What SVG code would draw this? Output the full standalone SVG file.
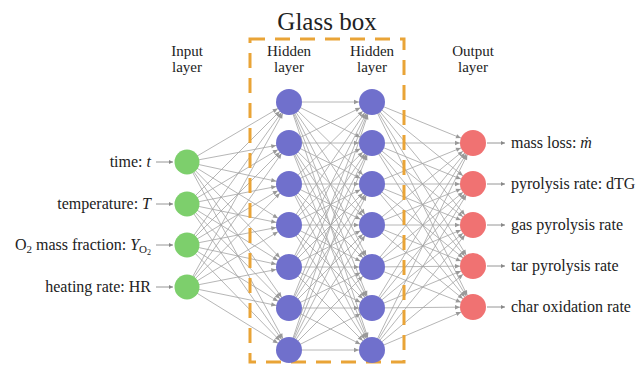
<svg xmlns="http://www.w3.org/2000/svg" width="636" height="367" viewBox="0 0 636 367">
<style>
.e{stroke:#a3a3a3;stroke-width:0.8;fill:none;marker-end:url(#ah)}
.a{stroke:#8a8a8a;stroke-width:0.9;fill:none;marker-end:url(#sa)}
.in{fill:#7dcf6c}
.hd{fill:#7070cc}
.out{fill:#f07272}
text{font-family:"Liberation Serif","Times New Roman",serif;fill:#222}
.lbl{font-size:16px}
.lay{font-size:15px;text-anchor:middle}
.ttl{font-size:25px;text-anchor:middle}
.box{fill:none;stroke:#e9a437;stroke-width:3;stroke-dasharray:15 10}
</style>
<defs>
<marker id="ah" viewBox="-20 -5 20 10" markerWidth="20" markerHeight="10" refX="0" refY="0" orient="auto" markerUnits="userSpaceOnUse">
<path d="M-18,-2.2 L-13,0 L-18,2.2 z" fill="#999"/>
</marker>
<marker id="sa" viewBox="-6 -4 7 8" markerWidth="7" markerHeight="8" refX="0" refY="0" orient="auto" markerUnits="userSpaceOnUse">
<path d="M-4,-2 L0,0 L-4,2 z" fill="#888"/>
</marker>
</defs>

<g id="connectors">
<line class="e" x1="187" y1="162" x2="289" y2="102"/>
<line class="e" x1="187" y1="162" x2="289" y2="143"/>
<line class="e" x1="187" y1="162" x2="289" y2="184"/>
<line class="e" x1="187" y1="162" x2="289" y2="225"/>
<line class="e" x1="187" y1="162" x2="289" y2="267"/>
<line class="e" x1="187" y1="162" x2="289" y2="308"/>
<line class="e" x1="187" y1="162" x2="289" y2="350"/>
<line class="e" x1="187" y1="204" x2="289" y2="102"/>
<line class="e" x1="187" y1="204" x2="289" y2="143"/>
<line class="e" x1="187" y1="204" x2="289" y2="184"/>
<line class="e" x1="187" y1="204" x2="289" y2="225"/>
<line class="e" x1="187" y1="204" x2="289" y2="267"/>
<line class="e" x1="187" y1="204" x2="289" y2="308"/>
<line class="e" x1="187" y1="204" x2="289" y2="350"/>
<line class="e" x1="187" y1="245" x2="289" y2="102"/>
<line class="e" x1="187" y1="245" x2="289" y2="143"/>
<line class="e" x1="187" y1="245" x2="289" y2="184"/>
<line class="e" x1="187" y1="245" x2="289" y2="225"/>
<line class="e" x1="187" y1="245" x2="289" y2="267"/>
<line class="e" x1="187" y1="245" x2="289" y2="308"/>
<line class="e" x1="187" y1="245" x2="289" y2="350"/>
<line class="e" x1="187" y1="287" x2="289" y2="102"/>
<line class="e" x1="187" y1="287" x2="289" y2="143"/>
<line class="e" x1="187" y1="287" x2="289" y2="184"/>
<line class="e" x1="187" y1="287" x2="289" y2="225"/>
<line class="e" x1="187" y1="287" x2="289" y2="267"/>
<line class="e" x1="187" y1="287" x2="289" y2="308"/>
<line class="e" x1="187" y1="287" x2="289" y2="350"/>

<line class="e" x1="289" y1="102" x2="372" y2="102"/>
<line class="e" x1="289" y1="102" x2="372" y2="143"/>
<line class="e" x1="289" y1="102" x2="372" y2="184"/>
<line class="e" x1="289" y1="102" x2="372" y2="225"/>
<line class="e" x1="289" y1="102" x2="372" y2="267"/>
<line class="e" x1="289" y1="102" x2="372" y2="308"/>
<line class="e" x1="289" y1="102" x2="372" y2="350"/>
<line class="e" x1="289" y1="143" x2="372" y2="102"/>
<line class="e" x1="289" y1="143" x2="372" y2="143"/>
<line class="e" x1="289" y1="143" x2="372" y2="184"/>
<line class="e" x1="289" y1="143" x2="372" y2="225"/>
<line class="e" x1="289" y1="143" x2="372" y2="267"/>
<line class="e" x1="289" y1="143" x2="372" y2="308"/>
<line class="e" x1="289" y1="143" x2="372" y2="350"/>
<line class="e" x1="289" y1="184" x2="372" y2="102"/>
<line class="e" x1="289" y1="184" x2="372" y2="143"/>
<line class="e" x1="289" y1="184" x2="372" y2="184"/>
<line class="e" x1="289" y1="184" x2="372" y2="225"/>
<line class="e" x1="289" y1="184" x2="372" y2="267"/>
<line class="e" x1="289" y1="184" x2="372" y2="308"/>
<line class="e" x1="289" y1="184" x2="372" y2="350"/>
<line class="e" x1="289" y1="225" x2="372" y2="102"/>
<line class="e" x1="289" y1="225" x2="372" y2="143"/>
<line class="e" x1="289" y1="225" x2="372" y2="184"/>
<line class="e" x1="289" y1="225" x2="372" y2="225"/>
<line class="e" x1="289" y1="225" x2="372" y2="267"/>
<line class="e" x1="289" y1="225" x2="372" y2="308"/>
<line class="e" x1="289" y1="225" x2="372" y2="350"/>
<line class="e" x1="289" y1="267" x2="372" y2="102"/>
<line class="e" x1="289" y1="267" x2="372" y2="143"/>
<line class="e" x1="289" y1="267" x2="372" y2="184"/>
<line class="e" x1="289" y1="267" x2="372" y2="225"/>
<line class="e" x1="289" y1="267" x2="372" y2="267"/>
<line class="e" x1="289" y1="267" x2="372" y2="308"/>
<line class="e" x1="289" y1="267" x2="372" y2="350"/>
<line class="e" x1="289" y1="308" x2="372" y2="102"/>
<line class="e" x1="289" y1="308" x2="372" y2="143"/>
<line class="e" x1="289" y1="308" x2="372" y2="184"/>
<line class="e" x1="289" y1="308" x2="372" y2="225"/>
<line class="e" x1="289" y1="308" x2="372" y2="267"/>
<line class="e" x1="289" y1="308" x2="372" y2="308"/>
<line class="e" x1="289" y1="308" x2="372" y2="350"/>
<line class="e" x1="289" y1="350" x2="372" y2="102"/>
<line class="e" x1="289" y1="350" x2="372" y2="143"/>
<line class="e" x1="289" y1="350" x2="372" y2="184"/>
<line class="e" x1="289" y1="350" x2="372" y2="225"/>
<line class="e" x1="289" y1="350" x2="372" y2="267"/>
<line class="e" x1="289" y1="350" x2="372" y2="308"/>
<line class="e" x1="289" y1="350" x2="372" y2="350"/>

<line class="e" x1="372" y1="102" x2="473" y2="143"/>
<line class="e" x1="372" y1="102" x2="473" y2="184"/>
<line class="e" x1="372" y1="102" x2="473" y2="225"/>
<line class="e" x1="372" y1="102" x2="473" y2="266"/>
<line class="e" x1="372" y1="102" x2="473" y2="307"/>
<line class="e" x1="372" y1="143" x2="473" y2="143"/>
<line class="e" x1="372" y1="143" x2="473" y2="184"/>
<line class="e" x1="372" y1="143" x2="473" y2="225"/>
<line class="e" x1="372" y1="143" x2="473" y2="266"/>
<line class="e" x1="372" y1="143" x2="473" y2="307"/>
<line class="e" x1="372" y1="184" x2="473" y2="143"/>
<line class="e" x1="372" y1="184" x2="473" y2="184"/>
<line class="e" x1="372" y1="184" x2="473" y2="225"/>
<line class="e" x1="372" y1="184" x2="473" y2="266"/>
<line class="e" x1="372" y1="184" x2="473" y2="307"/>
<line class="e" x1="372" y1="225" x2="473" y2="143"/>
<line class="e" x1="372" y1="225" x2="473" y2="184"/>
<line class="e" x1="372" y1="225" x2="473" y2="225"/>
<line class="e" x1="372" y1="225" x2="473" y2="266"/>
<line class="e" x1="372" y1="225" x2="473" y2="307"/>
<line class="e" x1="372" y1="267" x2="473" y2="143"/>
<line class="e" x1="372" y1="267" x2="473" y2="184"/>
<line class="e" x1="372" y1="267" x2="473" y2="225"/>
<line class="e" x1="372" y1="267" x2="473" y2="266"/>
<line class="e" x1="372" y1="267" x2="473" y2="307"/>
<line class="e" x1="372" y1="308" x2="473" y2="143"/>
<line class="e" x1="372" y1="308" x2="473" y2="184"/>
<line class="e" x1="372" y1="308" x2="473" y2="225"/>
<line class="e" x1="372" y1="308" x2="473" y2="266"/>
<line class="e" x1="372" y1="308" x2="473" y2="307"/>
<line class="e" x1="372" y1="350" x2="473" y2="143"/>
<line class="e" x1="372" y1="350" x2="473" y2="184"/>
<line class="e" x1="372" y1="350" x2="473" y2="225"/>
<line class="e" x1="372" y1="350" x2="473" y2="266"/>
<line class="e" x1="372" y1="350" x2="473" y2="307"/>

<line class="a" x1="156" y1="162" x2="173" y2="162"/>
<line class="a" x1="156" y1="204" x2="173" y2="204"/>
<line class="a" x1="156" y1="245" x2="173" y2="245"/>
<line class="a" x1="156" y1="287" x2="173" y2="287"/>
<line class="a" x1="487" y1="143" x2="505" y2="143"/>
<line class="a" x1="487" y1="184" x2="505" y2="184"/>
<line class="a" x1="487" y1="225" x2="505" y2="225"/>
<line class="a" x1="487" y1="266" x2="505" y2="266"/>
<line class="a" x1="487" y1="307" x2="505" y2="307"/>
</g>

<g id="glass-box">
<rect class="box" x="250" y="39" width="154" height="323"/>
<text class="ttl" x="327" y="30">Glass box</text>
</g>

<g id="layer-labels">
<text class="lay" x="187" y="56">Input</text>
<text class="lay" x="187" y="72">layer</text>
<text class="lay" x="289" y="56">Hidden</text>
<text class="lay" x="289" y="72">layer</text>
<text class="lay" x="372" y="56">Hidden</text>
<text class="lay" x="372" y="72">layer</text>
<text class="lay" x="473" y="56">Output</text>
<text class="lay" x="473" y="72">layer</text>
</g>

<g id="input-layer">
<g id="in1"><circle class="in" cx="187" cy="162" r="12.5"/><text class="lbl" x="151" y="167" text-anchor="end">time: <tspan font-style="italic">t</tspan></text></g>
<g id="in2"><circle class="in" cx="187" cy="204" r="12.5"/><text class="lbl" x="151" y="209" text-anchor="end">temperature: <tspan font-style="italic">T</tspan></text></g>
<g id="in3"><circle class="in" cx="187" cy="245" r="12.5"/><text class="lbl" x="151" y="250" text-anchor="end">O<tspan font-size="11" dy="3">2</tspan><tspan dy="-3"> mass fraction: </tspan><tspan font-style="italic">Y</tspan><tspan font-size="11" dy="3">O</tspan><tspan font-size="8" dy="2">2</tspan></text></g>
<g id="in4"><circle class="in" cx="187" cy="287" r="12.5"/><text class="lbl" x="151" y="292" text-anchor="end">heating rate: HR</text></g>
</g>

<g id="hidden-layer-1">
<g id="h1n1"><circle class="hd" cx="289" cy="102" r="13"/></g>
<g id="h1n2"><circle class="hd" cx="289" cy="143" r="13"/></g>
<g id="h1n3"><circle class="hd" cx="289" cy="184" r="13"/></g>
<g id="h1n4"><circle class="hd" cx="289" cy="225" r="13"/></g>
<g id="h1n5"><circle class="hd" cx="289" cy="267" r="13"/></g>
<g id="h1n6"><circle class="hd" cx="289" cy="308" r="13"/></g>
<g id="h1n7"><circle class="hd" cx="289" cy="350" r="13"/></g>
</g>

<g id="hidden-layer-2">
<g id="h2n1"><circle class="hd" cx="372" cy="102" r="13"/></g>
<g id="h2n2"><circle class="hd" cx="372" cy="143" r="13"/></g>
<g id="h2n3"><circle class="hd" cx="372" cy="184" r="13"/></g>
<g id="h2n4"><circle class="hd" cx="372" cy="225" r="13"/></g>
<g id="h2n5"><circle class="hd" cx="372" cy="267" r="13"/></g>
<g id="h2n6"><circle class="hd" cx="372" cy="308" r="13"/></g>
<g id="h2n7"><circle class="hd" cx="372" cy="350" r="13"/></g>
</g>

<g id="output-layer">
<g id="o1"><circle class="out" cx="473" cy="143" r="13"/><text class="lbl" x="511" y="148">mass loss: <tspan font-style="italic">ṁ</tspan></text></g>
<g id="o2"><circle class="out" cx="473" cy="184" r="13"/><text class="lbl" x="511" y="189">pyrolysis rate: dTG</text></g>
<g id="o3"><circle class="out" cx="473" cy="225" r="13"/><text class="lbl" x="511" y="230">gas pyrolysis rate</text></g>
<g id="o4"><circle class="out" cx="473" cy="266" r="13"/><text class="lbl" x="511" y="271">tar pyrolysis rate</text></g>
<g id="o5"><circle class="out" cx="473" cy="307" r="13"/><text class="lbl" x="511" y="312">char oxidation rate</text></g>
</g>
</svg>
